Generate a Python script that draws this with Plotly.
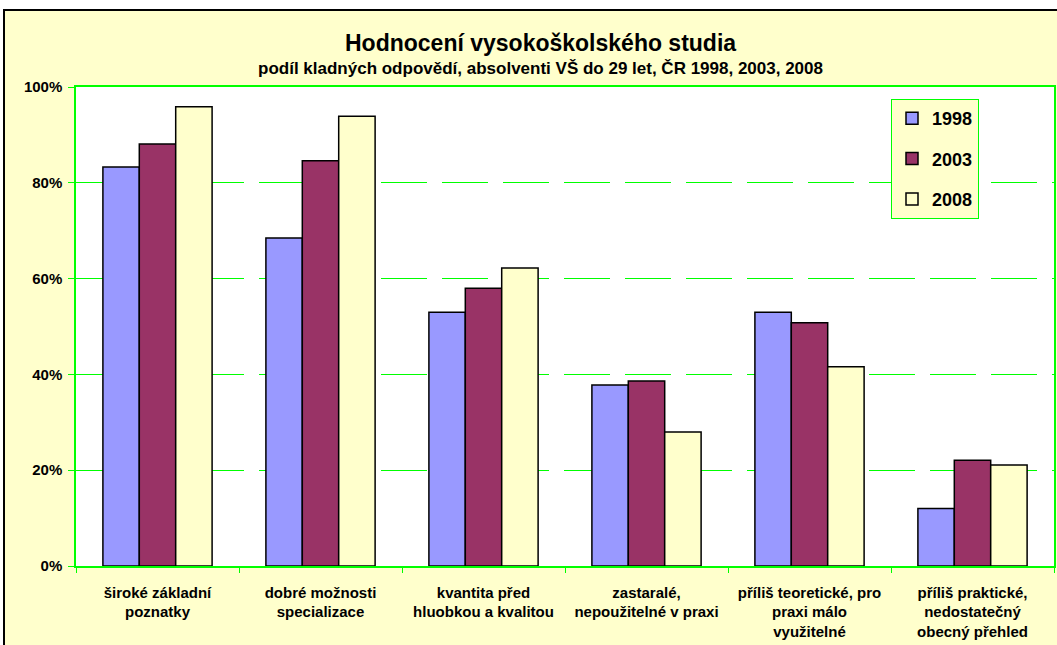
import plotly.graph_objects as go

# data
categories = [
    "široké základní<br>poznatky",
    "dobré možnosti<br>specializace",
    "kvantita před<br>hluobkou a kvalitou",
    "zastaralé,<br>nepoužitelné v praxi",
    "příliš teoretické, pro<br>praxi málo<br>využitelné",
    "příliš praktické,<br>nedostatečný<br>obecný přehled",
]
y1998 = [0.833, 0.685, 0.530, 0.378, 0.530, 0.120]
y2003 = [0.881, 0.846, 0.580, 0.386, 0.508, 0.221]
y2008 = [0.959, 0.939, 0.622, 0.280, 0.416, 0.211]

series = [("1998", y1998, "#9999FF"), ("2003", y2003, "#993366"), ("2008", y2008, "#FFFFCC")]

W, H = 1057, 645
ml, mr, mt, mb = 76, 3, 87, 79
pw, ph = W - ml - mr, H - mt - mb

def px_x(p):
    return (p - ml) / pw

def px_y(p):
    return (H - mb - p) / ph

font = "Liberation Sans, Arial, sans-serif"
green = "#00FF00"

fig = go.Figure()
for i, (name, vals, col) in enumerate(series):
    fig.add_trace(go.Bar(
        x=categories, y=vals, name=name, marker_color=col,
        marker_line=dict(color="black", width=1.5),
        legendgroup=str(i),
    ))

fig.update_layout(
    width=W, height=H,
    margin=dict(l=ml, r=mr, t=mt, b=mb, autoexpand=False),
    paper_bgcolor="white", plot_bgcolor="white",
    barmode="group", bargap=0.33, bargroupgap=0,
    font=dict(family=font, size=15, color="black"),
    legend=dict(
        x=px_x(891), y=px_y(99), xanchor="left", yanchor="top",
        bgcolor="#FFFFCC", bordercolor=green, borderwidth=1,
        font=dict(size=18, weight="bold"), tracegroupgap=14,
    ),
    showlegend=True,
)

fig.update_yaxes(
    range=[0, 1], dtick=0.2, tickformat=".0%",
    showgrid=True, gridcolor=green, gridwidth=1, griddash="46px,15px",
    showline=True, linecolor=green, linewidth=1.5, mirror=True,
    ticks="outside", ticklen=6, tickcolor=green, ticklabelstandoff=3,
    tickfont=dict(size=15, weight="bold"), zeroline=False,
)
fig.update_xaxes(
    showline=True, linecolor=green, linewidth=1.5, mirror=True,
    ticks="outside", ticklen=5, tickcolor=green, tickson="boundaries",
    tickfont=dict(size=15, weight="bold"), tickangle=0, ticklabelstandoff=12,
)

# yellow chart area with black border, white plot area on top
fig.add_shape(type="rect", xref="paper", yref="paper",
              x0=px_x(4), x1=px_x(W + 20), y0=px_y(H + 20), y1=px_y(10),
              fillcolor="#FFFFCC", line=dict(color="black", width=2), layer="below")
fig.add_shape(type="rect", xref="x domain", yref="y domain",
              x0=0, x1=1, y0=0, y1=1, fillcolor="white", line_width=0, layer="below")

fig.add_annotation(text="<b>Hodnocení vysokoškolského studia</b>", x=px_x(540), y=px_y(43),
                   xref="paper", yref="paper", yanchor="middle", showarrow=False,
                   font=dict(size=23))
fig.add_annotation(text="<b>podíl kladných odpovědí, absolventi VŠ do 29 let, ČR 1998, 2003, 2008</b>",
                   x=px_x(540), y=px_y(68), xref="paper", yref="paper", yanchor="middle",
                   showarrow=False, font=dict(size=17))

fig.write_html("out.html", config={"displayModeBar": False},
               post_script="document.body.style.margin='0';")
